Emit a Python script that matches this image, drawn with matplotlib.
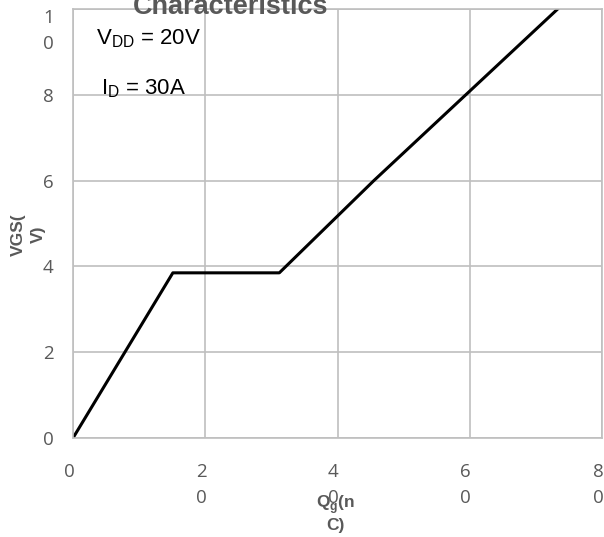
import numpy as np
import matplotlib.pyplot as plt
from matplotlib.transforms import ScaledTranslation

# gate charge curve
qg = [0, 15.1, 31.2, 45.5, 73.3]
vgs = [0, 3.85, 3.85, 6.0, 10.0]

x_ticks = [0, 20, 40, 60, 80]
x_tick_labels = ['0', '2\n0', '4\n0', '6\n0', '8\n0']
y_ticks = [0, 2, 4, 6, 8, 10]
y_tick_labels = ['0', '2', '4', '6', '8', '1\n0']

plt.rcParams['font.family'] = ['Liberation Sans', 'DejaVu Sans']
gray = '#595959'

fig = plt.figure(figsize=(6.04, 5.37), dpi=100)
ax = fig.add_axes([73 / 604, 1 - 438 / 537, 529 / 604, 429 / 537])

ax.plot(qg, vgs, color='black', linewidth=2.2, clip_on=True)

ax.set_xlim(0, 80)
ax.set_ylim(0, 10)
ax.set_xticks(x_ticks)
ax.set_xticklabels(x_tick_labels, linespacing=1.6, va='top')
ax.set_yticks(y_ticks)
ax.set_yticklabels(y_tick_labels, linespacing=1.6)
ax.tick_params(length=0, colors=gray, labelsize=13.5)
ax.tick_params(axis='x', pad=18)
ax.tick_params(axis='y', pad=14)
shift = ScaledTranslation(-4 / 100, 0, fig.dpi_scale_trans)
for lab in ax.get_xticklabels():
    lab.set_transform(lab.get_transform() + shift)
for lab in ax.get_xticklabels() + ax.get_yticklabels():
    lab.set_fontfamily(['Open Sans', 'DejaVu Sans'])
# the wrapped "10" sits lower, as in the original
ax.get_yticklabels()[-1].set_va('top')
ax.get_yticklabels()[-1].set_y(10.25)

ax.grid(True, color='#bfbfbf', linewidth=1.2)
for s in ax.spines.values():
    s.set_color('#bfbfbf')
    s.set_linewidth(1.2)

ax.set_xlabel('Q$_\\mathregular{g}$(n\nC)', fontsize=12.5, fontweight='bold', color=gray,
              linespacing=1.15, va='center')
ax.xaxis.set_label_coords(0.497, -0.175)
ax.set_ylabel('VGS(\nV)', fontsize=12.5, fontweight='bold', color=gray, linespacing=1.45,
              va='center')
ax.yaxis.set_label_coords(-0.084, 0.475)

ax.text(0.044, 0.93, 'V$_\\mathregular{DD}$ = 20V', transform=ax.transAxes,
        fontsize=16, va='center', ha='left')
ax.text(0.053, 0.815, 'I$_\\mathregular{D}$ = 30A', transform=ax.transAxes,
        fontsize=16, va='center', ha='left')

fig.text(231 / 604, 1 - 14 / 537, 'Characteristics', ha='center', va='baseline',
         fontsize=19.5, fontweight='bold', color=gray)

fig.savefig('out.png', dpi=100)
